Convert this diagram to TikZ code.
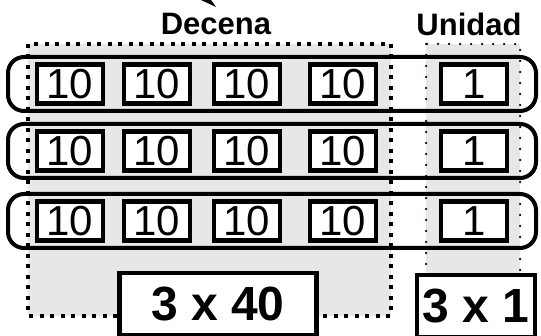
\documentclass[tikz,border=0pt]{standalone}
\usepackage{fontspec}
\setmainfont{Liberation Sans}
\definecolor{fondo}{HTML}{E6E7E8}
\begin{document}
\begin{tikzpicture}[x=1pt, y=-1pt,
  caja/.style={draw, line width=4.5pt, fill=white, minimum width=66pt, minimum height=39pt, inner sep=0pt, font=\fontsize{42}{42}\selectfont},
  fila/.style={draw, line width=4pt, rounded corners=16pt, minimum width=528pt, minimum height=54pt},
  total/.style={draw, line width=4.5pt, fill=white, minimum height=62pt, inner sep=0pt, font=\fontsize{48}{48}\selectfont\bfseries},
  titulo/.style={font=\fontsize{31}{31}\selectfont\bfseries}]
  \useasboundingbox (0,0) rectangle (541,336);
  % columnas de decenas y unidades
  \fill[fondo] (28,44) rectangle (391,316);
  \fill[fondo] (426,44) rectangle (520,275);
  \draw[line width=4.5pt, dash pattern=on 4pt off 6.5pt] (28,44) rectangle (391,316);
  \draw[line width=2.5pt, line cap=round, dash pattern=on 0pt off 11pt] (426,44) rectangle (520,275);
  \node[titulo] (decena) at (216,24) {Decena};
  \node[titulo] (unidad) at (469,24) {Unidad};
  \fill (201,0) -- (216,7) -- (211,0) -- cycle;
  % filas
  \foreach \y/\f in {84/1,151/2,221/3} {
    \node[fila] (fila\f) at (272,\y) {};
    \foreach \x/\c in {70/1,157/2,247/3,343/4}
      \node[caja] (d\f\c) at (\x,\y) {10};
    \node[caja] (u\f) at (474,\y) {1};
  }
  % totales
  \node[total, minimum width=197pt] (t40) at (218,304) {3 x 40};
  \node[total, minimum width=118pt] (t1) at (476,306) {3 x 1};
\end{tikzpicture}
\end{document}
